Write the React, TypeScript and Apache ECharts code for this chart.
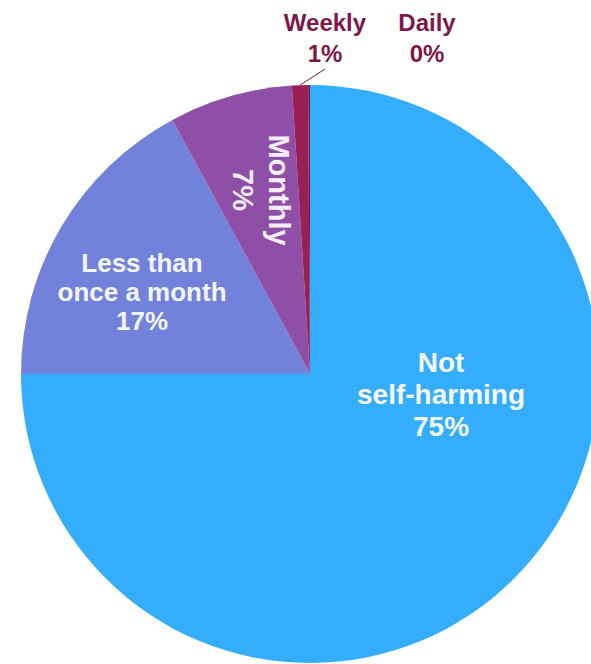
import React, { useEffect, useRef } from "react";
import * as echarts from "echarts";

const categories = ["Not\nself-harming", "Less than\nonce a month", "Monthly", "Weekly", "Daily"];
const values = [75, 17.1, 6.9, 0.9, 0.1];
const sliceColors = ["#35adfd", "#7282da", "#8f4fa6", "#9b1f57", "#6e1a40"];
const labelColors = ["#f4f8ff", "#f4f6ff", "#f6eef8", "#7d1747", "#7d1747"];
const labelSizes = [28, 26, 29, 24, 24];
const labelLineHeights = [32, 29, 36, 31, 31];
// label anchor positions (centre of each label block) and rotation
const labelX = [441, 142, 261, 325, 427];
const labelY = [394, 292, 190, 38, 38];
const labelRotate = [0, 0, -90, 0, 0];
const showLeader = [false, false, false, true, false];

export default function App() {
  const ref = useRef<HTMLDivElement>(null);
  useEffect(() => {
    if (!ref.current) return;
    const chart = echarts.init(ref.current, undefined, { renderer: "svg" });
    chart.setOption({
      animation: false,
      backgroundColor: "#ffffff",
      series: [
        {
          type: "pie",
          center: [310, 374],
          radius: [0, 289],
          startAngle: 90,
          clockwise: true,
          avoidLabelOverlap: false,
          silent: true,
          itemStyle: { borderWidth: 0 },
          label: {
            show: true,
            position: "inside",
            fontFamily: "'Liberation Sans', Arial, sans-serif",
            fontWeight: "bold",
            align: "center",
            formatter: (p: any) => `${p.name}\n${Math.round(p.percent)}%`,
          },
          labelLine: { show: false },
          labelLayout: (p: any) => ({
            x: labelX[p.dataIndex],
            y: labelY[p.dataIndex],
            align: "center",
            verticalAlign: "middle",
            rotate: labelRotate[p.dataIndex],
          }),
          data: categories.map((name, i) => ({
            name,
            value: values[i],
            itemStyle: { color: sliceColors[i] },
            label: {
              position: showLeader[i] ? "outside" : "inside",
              color: labelColors[i],
              fontSize: labelSizes[i],
              lineHeight: labelLineHeights[i],
            },
            labelLine: showLeader[i]
              ? {
                  show: true,
                  length: 8,
                  length2: 0,
                  smooth: false,
                  lineStyle: { color: "#6b1a40", width: 1 },
                }
              : { show: false },
          })),
        },
      ],
    });
    return () => chart.dispose();
  }, []);
  return (
    <div
      ref={ref}
      style={{ position: "absolute", left: 0, top: 0, width: 591, height: 664 }}
    />
  );
}
